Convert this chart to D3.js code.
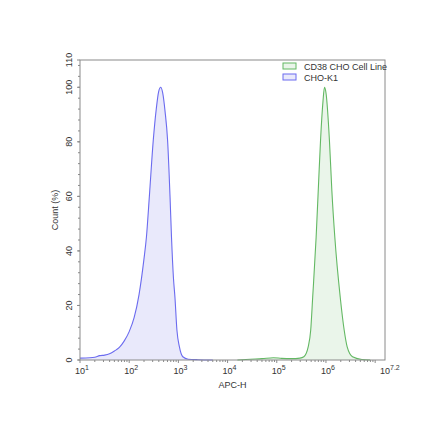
<!DOCTYPE html>
<html>
<head>
<meta charset="utf-8">
<script src="https://cdn.jsdelivr.net/npm/d3@7"></script>
<style>
  body { margin: 0; background: #fff; }
  text { font-family: "Liberation Sans", Arial, sans-serif; fill: #333; }
</style>
</head>
<body>
<div id="chart"></div>
<script>
// exponents of APC-H (log10) and count (%)
var choK1Log = [1.0, 1.2, 1.3, 1.4, 1.5, 1.6, 1.7, 1.8, 1.9, 2.0, 2.1, 2.2, 2.3, 2.35, 2.41, 2.49, 2.55, 2.6, 2.64, 2.68, 2.73, 2.78, 2.83, 2.86, 2.9, 2.93, 2.97, 3.02, 3.09, 3.2, 3.4, 3.7];
var choK1Val = [0.7, 0.8, 1.0, 1.6, 1.8, 2.3, 3.3, 4.6, 7.0, 10.4, 15.5, 24, 37, 45, 60, 80.7, 92, 98.5, 100, 98, 91, 80.7, 60, 45, 30, 23, 11, 4.9, 1.2, 0.3, 0.1, 0];
var cd38Log = [4.2, 4.46, 4.7, 4.93, 5.1, 5.3, 5.47, 5.55, 5.64, 5.69, 5.73, 5.8, 5.85, 5.89, 5.94, 5.97, 6.0, 6.07, 6.12, 6.18, 6.29, 6.37, 6.43, 6.54, 6.73, 6.9];
var cd38Val = [0, 0.3, 0.5, 0.85, 0.6, 0.5, 0.7, 1.2, 4.9, 11, 23, 45, 65, 80.7, 95, 100, 98, 80.7, 62, 45, 23, 11, 4.9, 1.2, 0.2, 0];

var seriesNames = ["CD38 CHO Cell Line", "CHO-K1"];
var xTickExps = ["1", "2", "3", "4", "5", "6", "7.2"];
var yTicks = [0, 20, 40, 60, 80, 100, 110];

var width = 440, height = 440;
var margin = { top: 60, right: 55, bottom: 80, left: 80 };

var svg = d3.select("#chart").append("svg")
  .attr("width", width)
  .attr("height", height);

var x = d3.scaleLog()
  .domain([10, Math.pow(10, 7.2)])
  .range([margin.left, width - margin.right]);

var y = d3.scaleLinear()
  .domain([0, 110])
  .range([height - margin.bottom, margin.top]);

var area = d3.area()
  .x(d => x(Math.pow(10, d[0])))
  .y0(y(0))
  .y1(d => y(d[1]))
  .curve(d3.curveMonotoneX);

var line = d3.line()
  .x(d => x(Math.pow(10, d[0])))
  .y(d => y(d[1]))
  .curve(d3.curveMonotoneX);

var series = [
  { name: seriesNames[1], pts: d3.zip(choK1Log, choK1Val), stroke: "#6b6bef", fill: "#e9e9fb" },
  { name: seriesNames[0], pts: d3.zip(cd38Log, cd38Val), stroke: "#63b863", fill: "#eaf5ea" }
];

series.forEach(function (s) {
  svg.append("path").attr("d", area(s.pts)).attr("fill", s.fill);
  svg.append("path").attr("d", line(s.pts))
    .attr("fill", "none")
    .attr("stroke", s.stroke)
    .attr("stroke-width", 1.1);
});

// frame
var axisColor = "#8a8a8a";
svg.append("rect")
  .attr("x", margin.left)
  .attr("y", margin.top)
  .attr("width", width - margin.left - margin.right)
  .attr("height", height - margin.top - margin.bottom)
  .attr("fill", "none")
  .attr("stroke", axisColor)
  .attr("stroke-width", 1);

// y ticks
var y0 = height - margin.bottom;
d3.range(0, 111, 4).forEach(function (v) {
  svg.append("line")
    .attr("x1", margin.left - 2).attr("x2", margin.left)
    .attr("y1", y(v)).attr("y2", y(v))
    .attr("stroke", axisColor);
});
yTicks.forEach(function (v) {
  svg.append("line")
    .attr("x1", margin.left - 3).attr("x2", margin.left)
    .attr("y1", y(v)).attr("y2", y(v))
    .attr("stroke", axisColor);
  svg.append("text")
    .attr("transform", "translate(" + (margin.left - 8) + "," + y(v) + ") rotate(-90)")
    .attr("text-anchor", "middle")
    .attr("font-size", 9)
    .text(v);
});

// x ticks
for (var e = 1; e <= 7; e++) {
  for (var m = 1; m <= 9; m++) {
    var v = m * Math.pow(10, e);
    if (v > x.domain()[1]) break;
    svg.append("line")
      .attr("x1", x(v)).attr("x2", x(v))
      .attr("y1", y0).attr("y2", y0 + (m === 1 ? 3 : 2))
      .attr("stroke", axisColor);
  }
}
xTickExps.forEach(function (ex) {
  var t = svg.append("text")
    .attr("x", x(Math.pow(10, +ex)) - 5)
    .attr("y", y0 + 14)
    .attr("font-size", 9);
  t.append("tspan").text("10");
  t.append("tspan").attr("dy", -4).attr("font-size", 7).text(ex);
});

// axis titles
svg.append("text")
  .attr("x", (margin.left + width - margin.right) / 2)
  .attr("y", y0 + 28)
  .attr("text-anchor", "middle")
  .attr("font-size", 9)
  .text("APC-H");

svg.append("text")
  .attr("transform", "translate(58," + (margin.top + y0) / 2 + ") rotate(-90)")
  .attr("text-anchor", "middle")
  .attr("font-size", 9)
  .text("Count (%)");

// legend
var legend = [
  { name: seriesNames[0], stroke: "#63b863", fill: "#eaf5ea" },
  { name: seriesNames[1], stroke: "#6b6bef", fill: "#e9e9fb" }
];
legend.forEach(function (d, i) {
  svg.append("rect")
    .attr("x", 283).attr("y", 63 + i * 11)
    .attr("width", 13).attr("height", 6)
    .attr("fill", d.fill).attr("stroke", d.stroke);
  svg.append("text")
    .attr("x", 304).attr("y", 69.5 + i * 11)
    .attr("font-size", 9)
    .text(d.name);
});
</script>
</body>
</html>
